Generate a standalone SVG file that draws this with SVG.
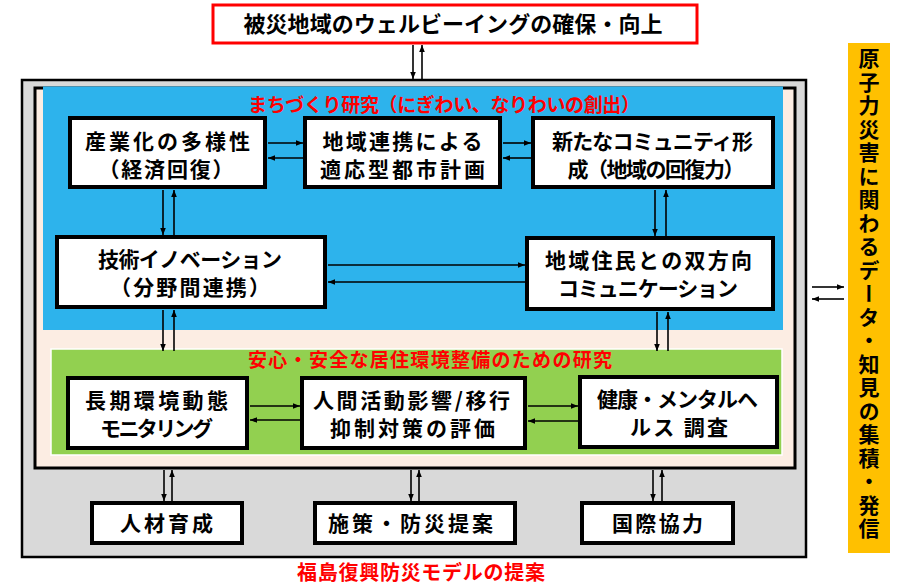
<svg xmlns="http://www.w3.org/2000/svg" width="904" height="588" viewBox="0 0 904 588">
<defs>
<style>
text{font-family:'Noto Sans CJK JP','Noto Sans',sans-serif;font-weight:bold;}
.n{fill:#fff;stroke:#000;stroke-width:4;}
.t{font-size:21px;fill:#000;text-anchor:middle;}
.r{font-size:19px;fill:#ff0000;text-anchor:middle;}
.c line{stroke:#000;stroke-width:1.6;marker-end:url(#ah);}
</style>
<marker id="ah" viewBox="0 0 10 10" refX="10" refY="5" markerWidth="7" markerHeight="7" markerUnits="userSpaceOnUse" orient="auto">
<path d="M0,1 L10,5 L0,9 z" fill="#000"/>
</marker>
</defs>
<rect width="904" height="588" fill="#fff"/>

<g id="frame">
<rect x="22" y="80" width="784" height="477" fill="#D9D9D9" stroke="#000" stroke-width="2.5"/>
<rect x="35" y="88" width="760" height="380" fill="#FCEDE3" stroke="#000" stroke-width="3"/>
<rect x="43" y="86.5" width="740" height="243.5" fill="#2DB3EC"/>
<rect x="51" y="349" width="731" height="106" fill="#92D050" stroke="#fff" stroke-width="1.5"/>
<text class="r" x="444" y="112" textLength="392" lengthAdjust="spacing">まちづくり研究（にぎわい、なりわいの創出）</text>
<text class="r" x="430" y="367" textLength="364" lengthAdjust="spacing">安心・安全な居住環境整備のための研究</text>
<text class="r" x="421" y="580" style="font-size:20px" textLength="248" lengthAdjust="spacing">福島復興防災モデルの提案</text>
</g>

<g id="goal">
<rect x="213" y="5" width="484" height="38" fill="#fff" stroke="#ff0000" stroke-width="3"/>
<text class="t" x="453" y="32" style="font-size:22px" textLength="419" lengthAdjust="spacing">被災地域のウェルビーイングの確保・向上</text>
</g>

<g id="data">
<rect x="848" y="43" width="42" height="510" fill="#FFC000"/>
<text x="869" y="48" style="font-size:21px;writing-mode:vertical-rl;text-orientation:upright;letter-spacing:2.5px" fill="#000">原子力災害に関わるデータ・知見の集積・発信</text>
</g>

<g id="n1">
<rect class="n" x="70" y="118" width="195" height="69"/>
<text class="t" x="167.5" y="149" textLength="165" lengthAdjust="spacing">産業化の多様性</text>
<text class="t" x="166" y="177" textLength="135" lengthAdjust="spacing">（経済回復）</text>
</g>
<g id="n2">
<rect class="n" x="305" y="118" width="195" height="69"/>
<text class="t" x="402.5" y="149" textLength="160" lengthAdjust="spacing">地域連携による</text>
<text class="t" x="402.5" y="177" textLength="165" lengthAdjust="spacing">適応型都市計画</text>
</g>
<g id="n3">
<rect class="n" x="533" y="118" width="240" height="69"/>
<text class="t" x="652.5" y="149" textLength="201" lengthAdjust="spacing">新たなコミュニティ形</text>
<text class="t" x="656" y="177" textLength="177" lengthAdjust="spacing">成（地域の回復力）</text>
</g>
<g id="n4">
<rect class="n" x="57" y="237" width="268" height="70"/>
<text class="t" x="190" y="267" textLength="184" lengthAdjust="spacing">技術イノベーション</text>
<text class="t" x="190" y="295" textLength="160" lengthAdjust="spacing">（分野間連携）</text>
</g>
<g id="n5">
<rect class="n" x="527" y="238" width="246" height="71"/>
<text class="t" x="648.5" y="268" textLength="207" lengthAdjust="spacing">地域住民との双方向</text>
<text class="t" x="648" y="296" textLength="180" lengthAdjust="spacing">コミュニケーション</text>
</g>
<g id="n6">
<rect class="n" x="68" y="378" width="179" height="70"/>
<text class="t" x="156.5" y="408" textLength="143" lengthAdjust="spacing">長期環境動態</text>
<text class="t" x="156.5" y="436" textLength="113" lengthAdjust="spacing">モニタリング</text>
</g>
<g id="n7">
<rect class="n" x="302" y="378" width="223" height="70"/>
<text class="t" x="411.5" y="408" textLength="197" lengthAdjust="spacing">人間活動影響/移行</text>
<text class="t" x="412.5" y="436" textLength="165" lengthAdjust="spacing">抑制対策の評価</text>
</g>
<g id="n8">
<rect class="n" x="580" y="377" width="197" height="70"/>
<text class="t" x="677.5" y="407" textLength="161" lengthAdjust="spacing">健康・メンタルヘ</text>
<text class="t" x="679" y="435" textLength="98" lengthAdjust="spacing">ルス 調査</text>
</g>
<g id="n9">
<rect class="n" x="92" y="503" width="150" height="40"/>
<text class="t" x="166.5" y="531" textLength="93" lengthAdjust="spacing">人材育成</text>
</g>
<g id="n10">
<rect class="n" x="315" y="503" width="200" height="40"/>
<text class="t" x="410.5" y="531" textLength="165" lengthAdjust="spacing">施策・防災提案</text>
</g>
<g id="n11">
<rect class="n" x="582" y="503" width="151" height="40"/>
<text class="t" x="657.5" y="531" textLength="91" lengthAdjust="spacing">国際協力</text>
</g>

<g id="connectors" class="c">
<line x1="413" y1="45" x2="413" y2="79"/>
<line x1="422" y1="79" x2="422" y2="45"/>
<line x1="268" y1="143" x2="303" y2="143"/>
<line x1="303" y1="158" x2="268" y2="158"/>
<line x1="503" y1="143" x2="531" y2="143"/>
<line x1="531" y1="158" x2="503" y2="158"/>
<line x1="163" y1="190" x2="163" y2="235"/>
<line x1="174" y1="235" x2="174" y2="190"/>
<line x1="655" y1="190" x2="655" y2="236"/>
<line x1="666" y1="236" x2="666" y2="190"/>
<line x1="328" y1="265" x2="525" y2="265"/>
<line x1="525" y1="282" x2="328" y2="282"/>
<line x1="163" y1="310" x2="163" y2="351"/>
<line x1="174" y1="351" x2="174" y2="310"/>
<line x1="657" y1="312" x2="657" y2="351"/>
<line x1="668" y1="351" x2="668" y2="312"/>
<line x1="250" y1="406" x2="300" y2="406"/>
<line x1="300" y1="420" x2="250" y2="420"/>
<line x1="528" y1="406" x2="578" y2="406"/>
<line x1="578" y1="421" x2="528" y2="421"/>
<line x1="164" y1="470" x2="164" y2="501"/>
<line x1="172" y1="501" x2="172" y2="470"/>
<line x1="411" y1="470" x2="411" y2="501"/>
<line x1="419" y1="501" x2="419" y2="470"/>
<line x1="653" y1="470" x2="653" y2="501"/>
<line x1="662" y1="501" x2="662" y2="470"/>
<line x1="812" y1="287" x2="844" y2="287"/>
<line x1="844" y1="299" x2="812" y2="299"/>
</g>
</svg>
